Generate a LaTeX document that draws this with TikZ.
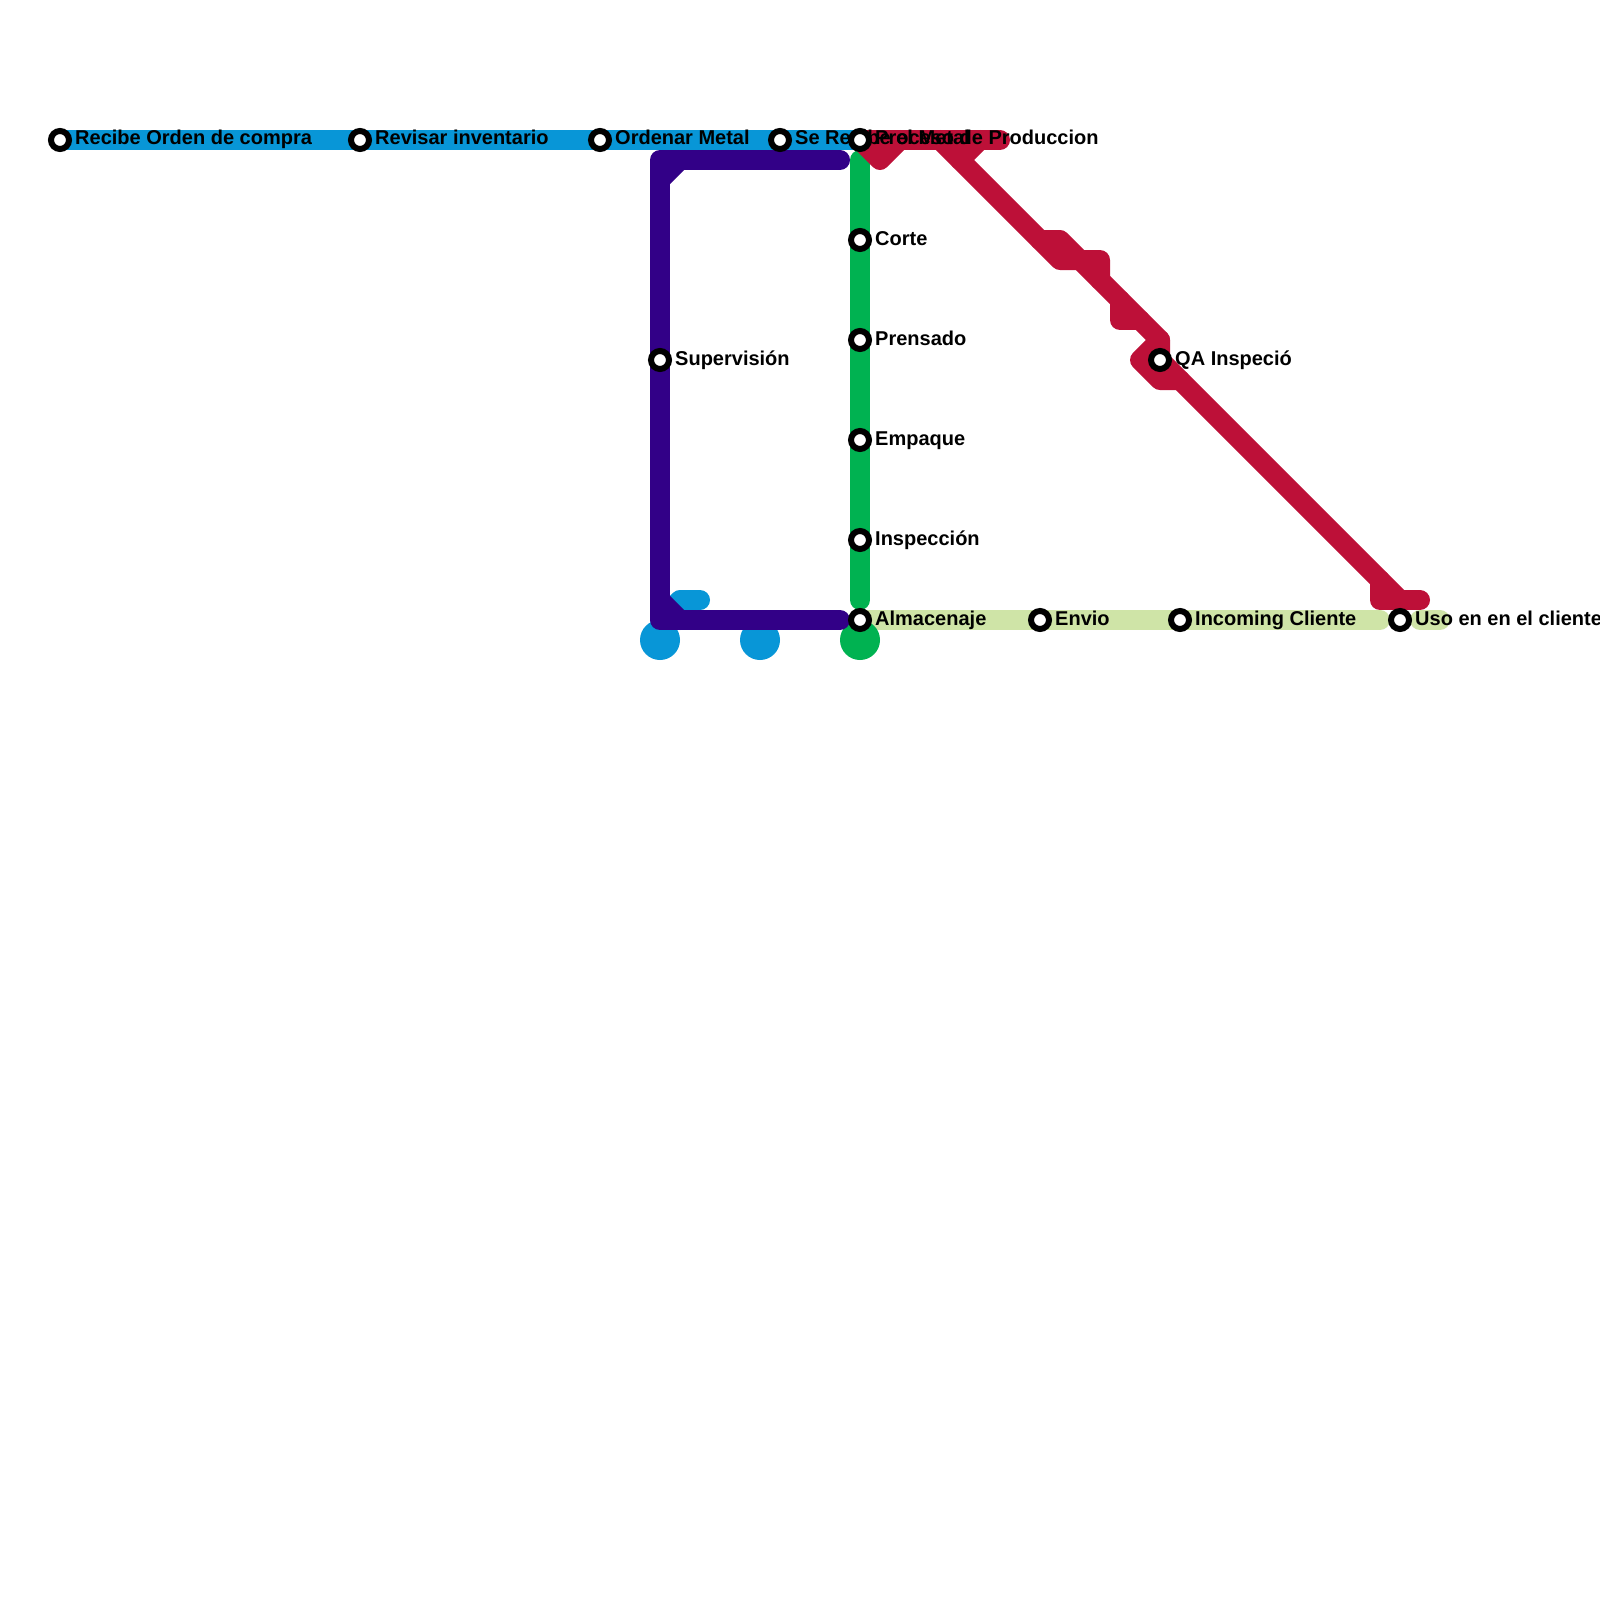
\documentclass[tikz,border=0pt]{standalone}
\usepackage{fontspec}
\setmainfont{Liberation Sans}
\usetikzlibrary{positioning}
\definecolor{lineblue}{HTML}{0896D7}
\definecolor{linepurple}{HTML}{320087}
\definecolor{linegreen}{HTML}{00B251}
\definecolor{linered}{HTML}{BD1038}
\definecolor{linelight}{HTML}{CFE4A7}
\pgfdeclarelayer{lines}
\pgfdeclarelayer{stations}
\pgfsetlayers{lines,main,stations}
\tikzset{
  track/.style={line width=20pt,line cap=round,line join=round},
  stn/.style={circle,draw=black,line width=6pt,fill=white,minimum size=18pt,inner sep=0pt},
  lbl/.style={inner sep=0pt,text height=15pt,text depth=5pt,font=\fontsize{20}{24}\selectfont\bfseries},
  endpt/.style={circle,minimum size=40pt,inner sep=0pt},
}
\begin{document}
\begin{tikzpicture}[x=1pt,y=-1pt]
\useasboundingbox (0,0) rectangle (1600,1600);
\begin{pgfonlayer}{stations}
\node[stn] (recibe) at (60,140){};
\node[stn] (revisar) at (360,140){};
\node[stn] (ordenar) at (600,140){};
\node[stn] (metal) at (780,140){};
\node[stn] (proceso) at (860,140){};
\node[stn] (corte) at (860,240){};
\node[stn] (prensado) at (860,340){};
\node[stn] (empaque) at (860,440){};
\node[stn] (inspeccion) at (860,540){};
\node[stn] (almacen) at (860,620){};
\node[stn] (envio) at (1040,620){};
\node[stn] (incoming) at (1180,620){};
\node[stn] (uso) at (1400,620){};
\node[stn] (qa) at (1160,360){};
\node[stn] (superv) at (660,360){};
\end{pgfonlayer}
\node[lbl,right=3pt of recibe](lrecibe){Recibe Orden de compra};
\node[lbl,right=3pt of revisar](lrevisar){Revisar inventario};
\node[lbl,right=3pt of ordenar](lordenar){Ordenar Metal};
\node[lbl,right=3pt of metal](lmetal){Se Recibe el Metal};
\node[lbl,right=3pt of proceso](lproceso){Proceso de Produccion};
\node[lbl,right=3pt of corte](lcorte){Corte};
\node[lbl,right=3pt of prensado](lprensado){Prensado};
\node[lbl,right=3pt of empaque](lempaque){Empaque};
\node[lbl,right=3pt of inspeccion](linspeccion){Inspección};
\node[lbl,right=3pt of almacen](lalmacen){Almacenaje};
\node[lbl,right=3pt of envio](lenvio){Envio};
\node[lbl,right=3pt of incoming](lincoming){Incoming Cliente};
\node[lbl,right=3pt of uso](luso){Uso en en el cliente};
\node[lbl,right=3pt of qa](lqa){QA Inspeció};
\node[lbl,right=3pt of superv](lsuperv){Supervisión};
% bends of the lines
\coordinate (p1) at (840,160);\coordinate (p2) at (660,160);\coordinate (p3) at (660,620);\coordinate (p4) at (840,620);
\coordinate (p5) at (660,180);\coordinate (p6) at (680,160);\coordinate (p7) at (660,600);\coordinate (p8) at (680,620);
\coordinate (b1) at (680,600);\coordinate (b2) at (700,600);
\coordinate (g1) at (860,160);\coordinate (g2) at (860,600);
\coordinate (y1) at (1380,620);\coordinate (y2) at (1420,620);\coordinate (y3) at (1440,620);
\coordinate (r1) at (1000,140);\coordinate (r2) at (880,160);\coordinate (r3) at (900,140);
\coordinate (r4) at (940,140);\coordinate (r5) at (1040,240);\coordinate (r6) at (1060,240);\coordinate (r7) at (1160,340);
\coordinate (r8) at (1400,600);\coordinate (r9) at (960,160);\coordinate (r10) at (980,140);
\coordinate (r11) at (1060,260);\coordinate (r12) at (1100,260);\coordinate (r13) at (1100,280);
\coordinate (r14) at (1120,300);\coordinate (r15) at (1120,320);\coordinate (r16) at (1140,320);
\coordinate (r17) at (1140,360);\coordinate (r18) at (1160,380);\coordinate (r19) at (1180,380);
\coordinate (r20) at (1380,580);\coordinate (r21) at (1380,600);\coordinate (r22) at (1420,600);
\begin{pgfonlayer}{lines}
\draw[track,linelight](almacen.center)--(y1);\draw[track,linelight](y2)--(y3);
\draw[track,lineblue](recibe.center)--(proceso.center);
\draw[track,lineblue](p3)--(b1)--(b2);
\node[endpt,fill=lineblue] (blue1) at (660,640){};
\node[endpt,fill=lineblue] (blue2) at (760,640){};
\node[endpt,fill=linegreen] (green1) at (860,640){};
\draw[track,linegreen](g1)--(g2);
\draw[track,linered](proceso.center)--(r1);\draw[track,linered](proceso.center)--(r2)--(r3);
\draw[track,linered](r4)--(r5)--(r6)--(r7)--(qa.center)--(r8);\draw[track,linered](r9)--(r10);
\draw[track,linered](r5)--(r11)--(r12)--(r13);\draw[track,linered](r14)--(r15)--(r16);
\draw[track,linered](r7)--(r17)--(r18)--(r19);\draw[track,linered](r20)--(r21)--(r22);
\draw[track,linepurple](p1)--(p2)--(p3)--(p4);\draw[track,linepurple](p5)--(p6);\draw[track,linepurple](p7)--(p8);
\end{pgfonlayer}
\end{tikzpicture}
\end{document}
